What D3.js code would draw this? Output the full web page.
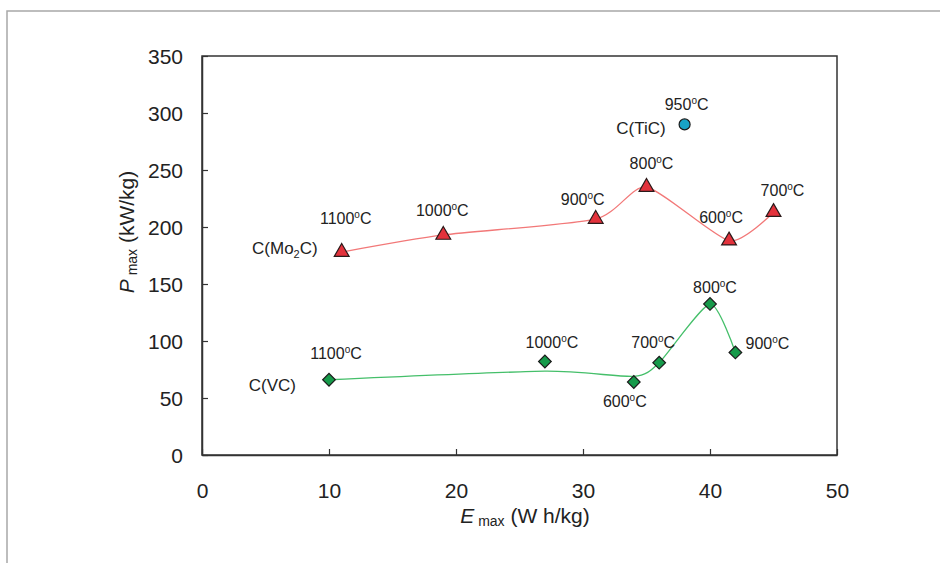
<!DOCTYPE html>
<html>
<head>
<meta charset="utf-8">
<script src="https://cdn.jsdelivr.net/npm/d3@7"></script>
<style>
  html, body { margin: 0; padding: 0; background: #fff; }
  svg { display: block; font-family: "Liberation Sans", Arial, sans-serif; }
</style>
</head>
<body>
<svg id="chart" width="940" height="563"></svg>
<script>
// ---------------- data ----------------
const xTicks = [0, 10, 20, 30, 40, 50];
const yTicks = [0, 50, 100, 150, 200, 250, 300, 350];

const mo2cTemps = ["1100", "1000", "900", "800", "600", "700"];
const mo2cE = [11, 19, 31, 35, 41.5, 45];
const mo2cP = [178, 193, 207, 235, 188, 213];

const vcTemps = ["1100", "1000", "600", "700", "800", "900"];
const vcE = [10, 27, 34, 36, 40, 42];
const vcP = [66, 82, 64, 81, 132.5, 90];

// smoothed trend line drawn for C(VC)
const vcLineE = [10, 27, 34, 36, 40, 42];
const vcLineP = [66, 73.5, 69, 81, 132.5, 90];

const ticTemps = ["950"];
const ticE = [38];
const ticP = [290];

// ---------------- layout / style ----------------
const svg = d3.select("#chart");
const X0 = 202, X1 = 837, Y0 = 455, Y1 = 56;
const x = d3.scaleLinear().domain([0, 50]).range([X0, X1]);
const y = d3.scaleLinear().domain([0, 350]).range([Y0, Y1]);

// outer gray frame
svg.append("path")
  .attr("d", "M7,563V11H940")
  .attr("fill", "none").attr("stroke", "#a8a8a8").attr("stroke-width", 1.5);

// plot box
svg.append("rect")
  .attr("x", X0).attr("y", Y1).attr("width", X1 - X0).attr("height", Y0 - Y1)
  .attr("fill", "none").attr("stroke", "#333").attr("stroke-width", 1.5);

// axes with inward ticks
const xAxis = svg.append("g").attr("transform", `translate(0,${Y0})`)
  .call(d3.axisBottom(x).tickValues(xTicks).tickSizeInner(-6).tickSizeOuter(0).tickPadding(28));
const yAxis = svg.append("g").attr("transform", `translate(${X0},0)`)
  .call(d3.axisLeft(y).tickValues(yTicks).tickSizeInner(-6).tickSizeOuter(0).tickPadding(19));
[xAxis, yAxis].forEach(a => {
  a.select(".domain").attr("stroke", "#333").attr("stroke-width", 1.5);
  a.selectAll(".tick line").attr("stroke", "#333").attr("stroke-width", 1.2);
  a.selectAll(".tick text").attr("fill", "#222").style("font-size", "21px")
    .style("font-family", "'Liberation Sans', Arial, sans-serif");
});
yAxis.selectAll(".tick text").attr("dy", "0.36em");

// axis titles
const xt = svg.append("text").attr("x", 525).attr("y", 523).attr("text-anchor", "middle")
  .attr("fill", "#222").style("font-size", "21px");
xt.append("tspan").text("E").style("font-style", "italic");
xt.append("tspan").text(" max").style("font-size", "14px").attr("dy", 3);
xt.append("tspan").text(" (W h/kg)").attr("dy", -3);

const yt = svg.append("text").attr("transform", "translate(134,232) rotate(-90)")
  .attr("text-anchor", "middle").attr("fill", "#222").style("font-size", "21px");
yt.append("tspan").text("P").style("font-style", "italic");
yt.append("tspan").text(" max").style("font-size", "14px").attr("dy", 3);
yt.append("tspan").text(" (kW/kg)").attr("dy", -3);

// lines
const line = d3.line().x(d => x(d[0])).y(d => y(d[1])).curve(d3.curveCardinal.tension(0.35));
const mo2cPts = mo2cE.map((e, i) => [e, mo2cP[i]]).sort((a, b) => a[0] - b[0]);
const vcLinePts = vcLineE.map((e, i) => [e, vcLineP[i]]);
svg.append("path").attr("d", line(mo2cPts)).attr("fill", "none")
  .attr("stroke", "#f27878").attr("stroke-width", 1.3);
svg.append("path").attr("d", line(vcLinePts)).attr("fill", "none")
  .attr("stroke", "#45bf6a").attr("stroke-width", 1.3);

// markers
const tri = d3.symbol().type(d3.symbolTriangle).size(95);
const sq = d3.symbol().type(d3.symbolSquare).size(80);
mo2cE.forEach((e, i) => {
  svg.append("path").attr("d", tri()).attr("transform", `translate(${x(e)},${y(mo2cP[i])})`)
    .attr("fill", "#e3323c").attr("stroke", "#2a1a1a").attr("stroke-width", 1.2);
});
vcE.forEach((e, i) => {
  svg.append("path").attr("d", sq()).attr("transform", `translate(${x(e)},${y(vcP[i])}) rotate(45)`)
    .attr("fill", "#169a4a").attr("stroke", "#1a1a1a").attr("stroke-width", 1.2);
});
ticE.forEach((e, i) => {
  svg.append("circle").attr("cx", x(e)).attr("cy", y(ticP[i])).attr("r", 5.5)
    .attr("fill", "#18a3c6").attr("stroke", "#1a1a1a").attr("stroke-width", 1.2);
});

// temperature labels (offsets in px from marker)
const mo2cOff = [[4, -34], [-1, -24], [-13, -20], [5, -24], [-8, -23], [9, -22]];
const vcOff = [[7, -26], [7, -19], [-9, 19], [-6, -20], [5, -16], [32, -9]];
const ticOff = [[2, -20]];
function tempLabel(cx, cy, off, t) {
  const tx = svg.append("text").attr("x", cx + off[0]).attr("y", cy + off[1] + 5.5)
    .attr("text-anchor", "middle").attr("fill", "#222").style("font-size", "16px");
  tx.append("tspan").text(t);
  tx.append("tspan").text("o").style("font-size", "10px").attr("dy", -6);
  tx.append("tspan").text("C").attr("dy", 6);
}
mo2cE.forEach((e, i) => tempLabel(x(e), y(mo2cP[i]), mo2cOff[i], mo2cTemps[i]));
vcE.forEach((e, i) => tempLabel(x(e), y(vcP[i]), vcOff[i], vcTemps[i]));
ticE.forEach((e, i) => tempLabel(x(e), y(ticP[i]), ticOff[i], ticTemps[i]));

// series names
function seriesName(cx, cy, dx, dy, parts) {
  const t = svg.append("text").attr("x", cx + dx).attr("y", cy + dy + 6)
    .attr("text-anchor", "end").attr("fill", "#222").style("font-size", "17px");
  parts.forEach(p => {
    const s = t.append("tspan").text(p.t);
    if (p.sub) s.style("font-size", "11px").attr("dy", 4);
    if (p.after) s.attr("dy", -4);
  });
}
seriesName(x(mo2cE[0]), y(mo2cP[0]), -24, -4, [{t: "C(Mo"}, {t: "2", sub: true}, {t: "C)", after: true}]);
seriesName(x(vcE[0]), y(vcP[0]), -33, 5, [{t: "C(VC)"}]);
seriesName(x(ticE[0]), y(ticP[0]), -19, 4, [{t: "C(TiC)"}]);
</script>
</body>
</html>
